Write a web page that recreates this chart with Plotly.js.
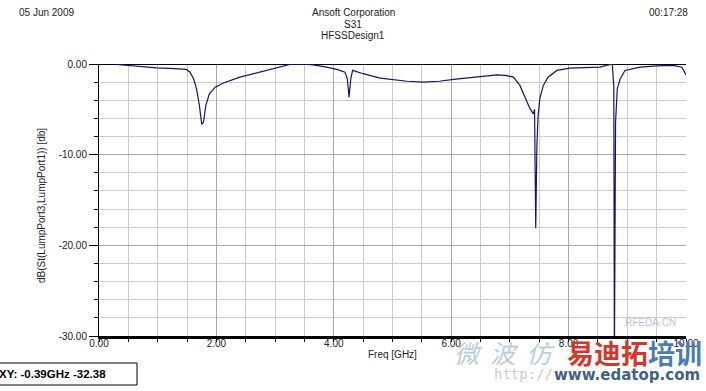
<!DOCTYPE html>
<html>
<head>
<meta charset="utf-8">
<script src="https://cdn.plot.ly/plotly-3.0.1.min.js"></script>
<style>html,body{margin:0;padding:0;background:#fff;}#chart{width:706px;height:391px;}</style>
</head>
<body>
<div id="chart"></div>
<script>
// ---- data ----
const freqGHz = [0.30,0.47,0.70,0.98,1.20,1.38,1.49,1.55,1.61,1.66,1.71,1.75,1.78,1.82,1.88,1.98,2.12,2.40,2.69,3.03,3.25,3.45,3.65,3.85,4.05,4.19,4.23,4.26,4.29,4.32,4.50,4.79,4.96,5.25,5.53,5.80,6.04,6.40,6.78,6.92,7.06,7.17,7.26,7.34,7.40,7.42,7.44,7.46,7.48,7.51,7.57,7.65,7.80,8.02,8.53,8.70,8.745,8.77,8.78,8.80,8.83,8.88,8.96,9.22,9.50,9.78,9.93,10.0];
const s31dB = [-0.05,-0.16,-0.28,-0.42,-0.48,-0.53,-0.6,-0.9,-1.6,-2.7,-4.56,-6.65,-6.4,-4.56,-3.3,-2.55,-2.1,-1.45,-0.97,-0.45,-0.05,0,-0.1,-0.32,-0.6,-0.9,-1.6,-3.65,-1.6,-0.7,-1.07,-1.55,-1.7,-1.9,-2.0,-1.9,-1.7,-1.45,-1.19,-1.25,-1.45,-2.36,-3.8,-4.9,-5.5,-5.0,-18.1,-9.0,-5.7,-3.8,-2.36,-1.45,-0.71,-0.46,-0.35,-0.1,0,-2.5,-33,-6.4,-2.7,-1.63,-0.71,-0.35,-0.2,-0.16,-0.35,-1.2];
const xTickVals = [0,2,4,6,8,10];
const xTickLabels = ["0.00","2.00","4.00","6.00","8.00","10.00"];
const yTickVals = [-30,-20,-10,0];
const yTickLabels = ["-30.00","-20.00","-10.00","0.00"];
const headerLeft = "05 Jun 2009";
const headerRight = "00:17:28";
const titleLines = ["Ansoft Corporation","S31","HFSSDesign1"];
const xTitle = "Freq [GHz]";
const yTitle = "dB(St(LumpPort3,LumpPort1)) [db]";
const readout = "XY: -0.39GHz -32.38";

// ---- layout helpers (pixel -> paper) ----
const L = 99, R = 20, T = 64, B = 55, W = 706, H = 391;
const pw = W - L - R, ph = H - T - B;
const px = x => (x - L) / pw;
const py = y => (H - B - y) / ph;
const FONT = "Liberation Sans, Arial, sans-serif";

const trace = {
  x: freqGHz, y: s31dB, type: "scatter", mode: "lines",
  line: {color: "#14146e", width: 1.2}, hoverinfo: "skip"
};

const annotations = [
  {text: headerLeft, x: px(17), y: py(12), xanchor: "left", yanchor: "middle"},
  {text: headerRight, x: px(690), y: py(12), xanchor: "right", yanchor: "middle"},
  {text: titleLines[0], x: px(353), y: py(12), xanchor: "center", yanchor: "middle"},
  {text: titleLines[1], x: px(353), y: py(24), xanchor: "center", yanchor: "middle"},
  {text: titleLines[2], x: px(353), y: py(36), xanchor: "center", yanchor: "middle"},
  {text: xTitle, x: px(392), y: py(354), xanchor: "center", yanchor: "middle"},
  {text: yTitle, x: px(42), y: py(205), xanchor: "center", yanchor: "middle", textangle: -90},
  {text: "<b>" + readout + "</b>", x: px(-3), y: py(374), xanchor: "left", yanchor: "middle",
   font: {family: FONT, size: 11.5, color: "#000"}},
  // watermarks
  {text: "RFEDA.CN", x: px(650), y: py(322), xanchor: "center", yanchor: "middle",
   font: {family: FONT, size: 10, color: "#cdbad8"}},
  {text: "<i>微  波  仿</i>", x: px(452), y: py(352), xanchor: "left", yanchor: "middle",
   font: {family: "Noto Sans CJK SC", size: 25, color: "#b8cde0"}},
  {text: "http://", x: px(492), y: py(374), xanchor: "left", yanchor: "middle",
   font: {family: "DejaVu Sans Mono", size: 14, color: "#c3cdd8"}},
  {text: "<b>www.edatop.com</b>", x: px(702), y: py(375), xanchor: "right", yanchor: "middle",
   font: {family: "DejaVu Sans", size: 15, color: "#3f6185"}},
  {text: "<b><span style='color:#d6352c'>易迪拓</span><span style='color:#4a7db3'>培训</span></b>",
   x: px(704), y: py(352), xanchor: "right", yanchor: "middle",
   font: {family: "Noto Sans CJK SC", size: 27, color: "#d6352c"}}
].map(a => Object.assign({xref: "paper", yref: "paper", showarrow: false,
  font: {family: FONT, size: 10, color: "#222"}}, a));

const shapes = [
  {type: "rect", xref: "paper", yref: "paper", x0: px(-2), x1: px(137), y0: py(385), y1: py(363),
   line: {color: "#000", width: 1}, fillcolor: "rgba(0,0,0,0)", layer: "below"}
];

const layout = {
  width: W, height: H,
  margin: {l: L, r: R, t: T, b: B, pad: 0},
  paper_bgcolor: "#fff", plot_bgcolor: "#fff",
  showlegend: false,
  font: {family: FONT, size: 10, color: "#222"},
  xaxis: {
    range: [0, 10], tickmode: "array", tickvals: xTickVals, ticktext: xTickLabels,
    ticks: "outside", ticklen: 3, tickcolor: "#000", tickwidth: 1, ticklabelstandoff: -7,
    showgrid: true, gridcolor: "#a8a8a8", gridwidth: 1,
    minor: {tickmode: "linear", tick0: 0, dtick: 0.5, ticks: "outside", ticklen: 3, tickcolor: "#000",
            showgrid: true, gridcolor: "#cccccc", gridwidth: 1},
    showline: true, linecolor: "#000", linewidth: 3, zeroline: false,
    tickfont: {family: FONT, size: 10, color: "#222"}, fixedrange: true
  },
  yaxis: {
    range: [-30, 0], tickmode: "array", tickvals: yTickVals, ticktext: yTickLabels,
    ticks: "outside", ticklen: 9, tickcolor: "#000", tickwidth: 1,
    showgrid: true, gridcolor: "#a8a8a8", gridwidth: 1,
    minor: {tickmode: "linear", tick0: 0, dtick: 2, ticks: "outside", ticklen: 4, tickcolor: "#000",
            showgrid: true, gridcolor: "#cccccc", gridwidth: 1},
    showline: true, linecolor: "#000", linewidth: 1,
    zeroline: true, zerolinecolor: "#000", zerolinewidth: 1,
    tickfont: {family: FONT, size: 10, color: "#222"}, fixedrange: true
  },
  annotations: annotations,
  shapes: shapes
};

Plotly.newPlot("chart", [trace], layout, {staticPlot: true, displayModeBar: false});
</script>
</body>
</html>
